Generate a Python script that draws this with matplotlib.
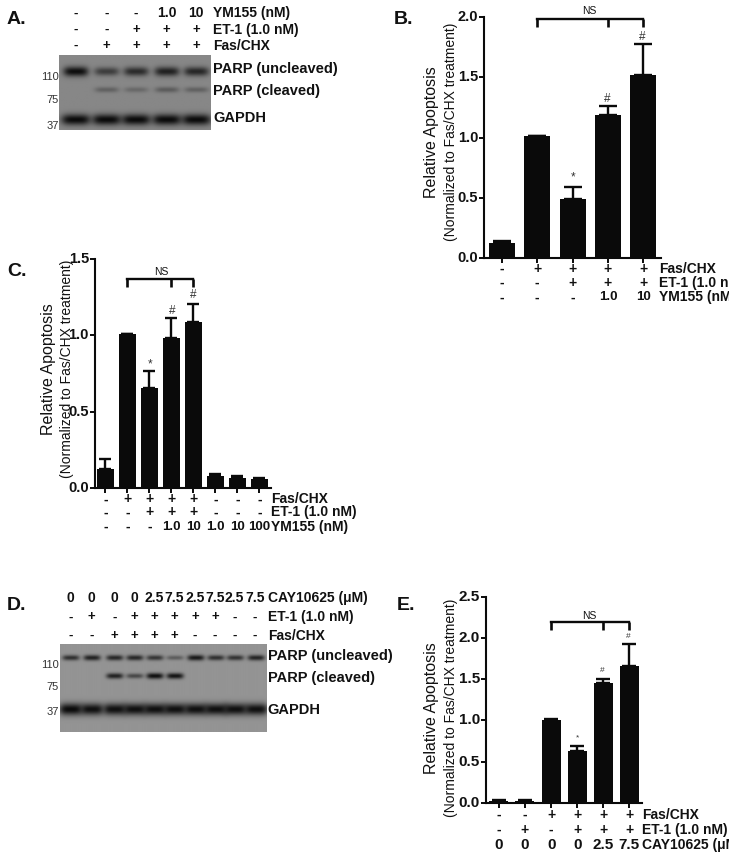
import numpy as np
import matplotlib
matplotlib.use("Agg")
import matplotlib.pyplot as plt
from matplotlib.transforms import Affine2D, blended_transform_factory

W, H = 729, 861
NARROW = ['Liberation Sans Narrow', 'Liberation Sans', 'DejaVu Sans']
SANS = ['Liberation Sans', 'DejaVu Sans']
INK = '#0a0a0a'

# ---- Panel B ----
b_values = [0.13, 1.01, 0.49, 1.19, 1.52]
b_errors = [0.016, 0.0, 0.097, 0.07, 0.25]
b_row1 = ['-', '+', '+', '+', '+']
b_row2 = ['-', '-', '+', '+', '+']
b_row3 = ['-', '-', '-', '1.0', '10']
b_labels = ['Fas/CHX', 'ET-1 (1.0 nM)', 'YM155 (nM)']
b_marks = {2: '*', 3: '#', 4: '#'}

# ---- Panel C ----
c_values = [0.123, 1.01, 0.652, 0.985, 1.088, 0.077, 0.066, 0.055]
c_errors = [0.065, 0.0, 0.117, 0.132, 0.121, 0.013, 0.011, 0.008]
c_row1 = ['-', '+', '+', '+', '+', '-', '-', '-']
c_row2 = ['-', '-', '+', '+', '+', '-', '-', '-']
c_row3 = ['-', '-', '-', '1.0', '10', '1.0', '10', '100']
c_labels = ['Fas/CHX', 'ET-1 (1.0 nM)', 'YM155 (nM)']
c_marks = {2: '*', 3: '#', 4: '#'}

# ---- Panel E ----
e_values = [0.02, 0.02, 1.003, 0.627, 1.448, 1.655]
e_errors = [0.015, 0.015, 0.008, 0.065, 0.052, 0.275]
e_row1 = ['-', '-', '+', '+', '+', '+']
e_row2 = ['-', '+', '-', '+', '+', '+']
e_row3 = ['0', '0', '0', '0', '2.5', '7.5']
e_labels = ['Fas/CHX', 'ET-1 (1.0 nM)', 'CAY10625 (\u03bcM)']
e_marks = {3: '*', 4: '#', 5: '#'}

# ---- Blot A band strengths per lane ----
a_lanes = ['-', '+', '+', '+', '+']
a_uncleaved = [0.95, 0.58, 0.72, 0.80, 0.76]
a_cleaved = [0.0, 0.30, 0.24, 0.34, 0.30]
a_gapdh = [0.97, 0.97, 0.97, 0.97, 0.97]
a_row1 = ['-', '-', '-', '1.0', '10']
a_row2 = ['-', '-', '+', '+', '+']
a_row3 = ['-', '+', '+', '+', '+']
a_row_labels = ['YM155 (nM)', 'ET-1 (1.0 nM)', 'Fas/CHX']

# ---- Blot D band strengths per lane ----
d_uncleaved = [0.72, 0.82, 0.78, 0.78, 0.68, 0.40, 0.88, 0.72, 0.70, 0.80]
d_cleaved = [0.0, 0.0, 0.82, 0.55, 0.95, 0.92, 0.0, 0.0, 0.0, 0.0]
d_gapdh = [0.98, 0.94, 0.94, 0.94, 0.94, 0.94, 0.94, 0.94, 0.94, 0.94]
d_row1 = ['0', '0', '0', '0', '2.5', '7.5', '2.5', '7.5', '2.5', '7.5']
d_row2 = ['-', '+', '-', '+', '+', '+', '+', '+', '-', '-']
d_row3 = ['-', '-', '+', '+', '+', '+', '-', '-', '-', '-']
d_row_labels = ['CAY10625 (\u03bcM)', 'ET-1 (1.0 nM)', 'Fas/CHX']
blot_mw = ['110', '75', '37']
blot_bands = ['PARP (uncleaved)', 'PARP (cleaved)', 'GAPDH']

fig = plt.figure(figsize=(W / 100, H / 100), dpi=100, facecolor='white')
PX = Affine2D().scale(1 / W, -1 / H).translate(0, 1) + fig.transFigure


def put(x, y, s, size=9, weight='normal', ha='center', va='center', family=NARROW, color='#111111', rot=0):
    fig.text(x, y, s, transform=PX, fontsize=size, fontweight=weight, ha=ha, va=va,
             family=family, color=color, rotation=rot)


def axes_px(left, top, right, bottom):
    return fig.add_axes([left / W, 1 - bottom / H, (right - left) / W, (bottom - top) / H])


def bar_panel(box, ymax, ticks, tickfmt_size, values, errors, bar_w, x_px, rows, row_y, labels, label_x,
              bracket, ns_xy, marks, mark_px, sym_size, ylab, last_row_style=None):
    left, top, right, bottom = box
    ax = axes_px(left, top, right, bottom)
    x0, x1 = x_px[0], x_px[1]
    ax.set_xlim(left, right)
    ax.set_ylim(0, ymax)
    xs = np.array(x_px)
    ax.bar(xs, values, width=bar_w, color=INK, linewidth=0)
    ax.errorbar(xs, values, yerr=[np.zeros(len(values)), errors], fmt='none', ecolor=INK,
                elinewidth=1.7, capsize=bar_w * 0.26, capthick=1.7, clip_on=False)
    for s in ('top', 'right'):
        ax.spines[s].set_visible(False)
    for s in ('left', 'bottom'):
        ax.spines[s].set_linewidth(1.5)
        ax.spines[s].set_color(INK)
    ax.set_xticks(xs)
    ax.set_xticklabels([])
    ax.set_yticks(ticks)
    ax.set_yticklabels([])
    ax.tick_params(axis='both', length=3.5, width=1.4, color=INK)
    # tick labels
    for t in ticks:
        ypx = bottom - (bottom - top) * t / ymax
        put(left - 6, ypx, f'{t:.1f}', size=tickfmt_size, weight='bold', ha='right',
            family=bracket['tickfont'])
    # treatment rows
    bt = blended_transform_factory(ax.transData, PX)
    for ri, (row, ry) in enumerate(zip(rows, row_y)):
        for xv, s in zip(xs, row):
            kw = dict(fontsize=sym_size, fontweight='bold', family=SANS)
            if s not in '+-':
                kw = dict(fontsize=9.5, fontweight='bold', family=NARROW)
            if last_row_style and ri == 2:
                kw = last_row_style if s != '-' else kw
            ax.text(xv, ry, s, transform=bt, ha='center', va='center', color='#111111', clip_on=False, **kw)
        put(label_x, ry, labels[ri], size=10, weight='bold', ha='left')
    # bracket
    by, bdrop = bracket['y'], bracket['drop']
    bx = [xs[i] for i in bracket['idx']]
    ax.plot([bx[0], bx[-1]], [by, by], color=INK, lw=1.7, clip_on=False, solid_capstyle='projecting')
    for v in bx:
        ax.plot([v, v], [by, by - bdrop], color=INK, lw=1.9, clip_on=False, solid_capstyle='butt')
    put(ns_xy[0], ns_xy[1], 'NS', size=7.5, weight='normal')
    for (i, s), (mx, my) in zip(marks.items(), mark_px):
        put(mx, my, s, size=bracket['marksize'], family=SANS, color='#333333')
    put(ylab[0], ylab[2], 'Relative Apoptosis', size=ylab[3], family=SANS, weight='normal', rot=90)
    put(ylab[1], ylab[2], '(Normalized to Fas/CHX treatment)', size=ylab[4], family=SANS, weight='normal', rot=90)
    return ax


def render_blot(box, bg, lane_x, bands, band_y, half_w, half_h):
    left, top, right, bottom = box
    ax = axes_px(left, top, right, bottom)
    xx, yy = np.meshgrid(np.arange(left, right, 0.5), np.arange(top, bottom, 0.5))
    img = np.full(xx.shape, 1.0)
    for strengths, by, hw, hh in zip(bands, band_y, half_w, half_h):
        for lx, st in zip(lane_x, strengths):
            if st <= 0:
                continue
            d = ((xx - lx) / hw) ** 4 + ((yy - by) / (hh * (0.6 + 0.4 * st))) ** 2
            img *= 1 - st * np.exp(-d)
    img = bg * img + 0.03
    ax.imshow(img, cmap='gray', vmin=0, vmax=1, extent=(left, right, bottom, top), aspect='auto',
              interpolation='bilinear')
    ax.axis('off')
    return ax


# ---- Panel A ----
put(7, 20, 'A.', size=14, weight='bold', ha='left', family=SANS)
a_x = [76, 106.7, 136, 166.7, 196]
render_blot((59.3, 55, 210.7, 130), 0.50, a_x, [a_uncleaved, a_cleaved, a_gapdh], [72, 90, 119.5],
            [12.5, 12, 14.5], [5.0, 3.8, 5.5])
for row, ry, lab in zip([a_row1, a_row2, a_row3], [13.3, 30, 45.7], a_row_labels):
    for xv, s in zip(a_x, row):
        if s in '+-':
            put(xv, ry, s, size=9.5, weight='bold', family=SANS)
        else:
            put(xv, ry, s, size=10, weight='bold')
    put(213.3, ry, lab, size=10, weight='bold', ha='left')
for s, ry in zip(blot_bands, [69, 91, 117.7]):
    put(213.3, ry, s, size=10.5, weight='bold', ha='left')
for s, ry in zip(blot_mw, [77, 100, 126]):
    put(58.5, ry, s, size=8, ha='right', family=SANS, color='#333333')

# ---- Panel B ----
put(394, 20, 'B.', size=14, weight='bold', ha='left', family=SANS)
bar_panel((484.3, 16.7, 661, 258.3), 2.0, [0, 0.5, 1.0, 1.5, 2.0], 10.5, b_values, b_errors, 26,
          [501.7, 537, 572.5, 608, 643.3], [b_row1, b_row2, b_row3], [269, 283, 297.5], b_labels, 659.3,
          dict(y=1.978, drop=0.06, idx=[1, 3, 4], marksize=8.5, tickfont=SANS), (589.7, 11), b_marks,
          [(573, 177), (607.3, 99), (642.7, 37)], 10,
          (432, 451, 132, 11.5, 10))

# ---- Panel C ----
put(7, 272, 'C.', size=14, weight='bold', ha='left', family=SANS)
bar_panel((95, 259.3, 270.7, 487.7), 1.5, [0, 0.5, 1.0, 1.5], 10.5, c_values, c_errors, 17.3,
          [105.5, 127.3, 149.3, 171.3, 193.3, 215.3, 237.3, 259.3], [c_row1, c_row2, c_row3],
          [499.3, 512.3, 526.7], c_labels, 270.7,
          dict(y=1.371, drop=0.05, idx=[1, 3, 4], marksize=8.5, tickfont=NARROW), (161, 271.7), c_marks,
          [(149.7, 364), (172.3, 311), (193.3, 295)], 10,
          (49, 67, 369, 11.5, 10))

# ---- Panel D ----
put(7, 605, 'D.', size=14, weight='bold', ha='left', family=SANS)
d_x = [70.7, 91.7, 114.3, 134.3, 154.3, 174.3, 195, 215, 234.3, 255]
render_blot((60, 644, 266, 731.7), 0.55, d_x, [d_uncleaved, d_cleaved, d_gapdh], [657.5, 675.7, 709],
            [8.5, 8.5, 11.5], [3.0, 3.0, 6.0])
for row, ry, lab in zip([d_row1, d_row2, d_row3], [598, 617.3, 636], d_row_labels):
    for xv, s in zip(d_x, row):
        if s in '+-':
            put(xv, ry, s, size=9.5, weight='bold', family=SANS)
        else:
            put(xv, ry, s, size=10, weight='bold')
    put(267.7, ry, lab, size=10, weight='bold', ha='left')
for s, ry in zip(blot_bands, [656, 678.3, 710]):
    put(267.7, ry, s, size=10.5, weight='bold', ha='left')
for s, ry in zip(blot_mw, [664.7, 687.3, 712.3]):
    put(58.5, ry, s, size=8, ha='right', family=SANS, color='#333333')

# ---- Panel E ----
put(397, 605, 'E.', size=14, weight='bold', ha='left', family=SANS)
bar_panel((486, 596.7, 642.3, 802.7), 2.5, [0, 0.5, 1.0, 1.5, 2.0, 2.5], 11, e_values, e_errors, 19,
          [498.8, 524.8, 551.2, 577.2, 603.2, 629.2], [e_row1, e_row2, e_row3], [815, 830, 845], e_labels, 641.7,
          dict(y=2.19, drop=0.1, idx=[2, 4, 5], marksize=6, tickfont=NARROW), (589.7, 615.7), e_marks,
          [(577.3, 738), (602.7, 671), (628.7, 637)], 10,
          (432, 451, 708, 11.5, 10),
          last_row_style=dict(fontsize=11, fontweight='bold', family=SANS))

fig.savefig('out.png', dpi=100)
